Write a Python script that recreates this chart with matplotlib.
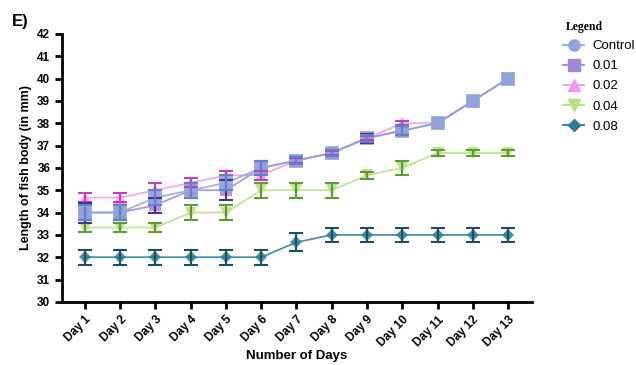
import numpy as np
import matplotlib.pyplot as plt
from matplotlib.lines import Line2D

plt.rcParams['font.family'] = ['Liberation Sans', 'DejaVu Sans']

days = ["Day %d" % (i + 1) for i in range(13)]
control = [34, 34, 34.67, 35, 35.33, 36, 36.33, 36.67, 37.33, 37.67, 38, 39, 40]
control_err = [0.33, 0.33, 0.33, 0.33, 0.33, 0.33, 0.15, 0.15, 0.15, 0.2, 0, 0, 0]
c001 = [34, 34, 34.33, 35, 35, 36, 36.33, 36.67, 37.33, 37.67, 38, 39, 40]
c001_err = [0.45, 0.33, 0.33, 0.33, 0.45, 0.33, 0.15, 0.15, 0.2, 0.2, 0, 0, 0]
c002 = [34.67, 34.67, 35, 35.33, 35.67, 35.67, 36.33, 36.67, 37.33, 38, 38, 39, 40]
c002_err = [0.2, 0.2, 0.33, 0.2, 0.2, 0.2, 0.1, 0.1, 0.1, 0.1, 0, 0, 0]
c004 = [33.33, 33.33, 33.33, 34, 34, 35, 35, 35, 35.67, 36, 36.67, 36.67, 36.67]
c004_err = [0.2, 0.2, 0.2, 0.33, 0.33, 0.33, 0.33, 0.33, 0.15, 0.33, 0.15, 0.15, 0.15]
c008 = [32, 32, 32, 32, 32, 32, 32.67, 33, 33, 33, 33, 33, 33]
c008_err = [0.33, 0.33, 0.33, 0.33, 0.33, 0.33, 0.4, 0.33, 0.33, 0.33, 0.33, 0.33, 0.33]

x = np.arange(1, 14)

fig = plt.figure(figsize=(6.36, 3.65), dpi=100)
ax = fig.add_axes([0.0975, 0.173, 0.739, 0.734])

series = [
    (c008, c008_err, '#2a7d9a', '#1d4f63', 'D', 6),
    (c004, c004_err, '#b5e07f', '#5d9c2e', 'v', 8),
    (c002, c002_err, '#ea9ae8', '#c040c0', '^', 8),
    (c001, c001_err, '#9f86d6', '#4b2f96', 's', 9),
    (control, control_err, '#8ea6dd', '#6780c4', 's', 10),
]
for i, (y, e, col, ecol, m, ms) in enumerate(series):
    y = np.array(y)
    e = np.array(e)
    ax.plot(x, y, color=col, marker=m, markersize=ms, lw=1.3,
            markeredgewidth=0, alpha=0.85, zorder=2 + i * 0.1)
    k = e > 0
    ax.errorbar(x[k], y[k], yerr=e[k], fmt='none', ecolor=ecol, elinewidth=1.5,
                capsize=5, capthick=1.5, zorder=3 + i * 0.1)

ax.set_xlim(0.35, 13.68)
ax.set_ylim(30, 42)
ax.set_yticks(range(30, 43))
ax.set_xticks(x)
ax.set_xticklabels(days, rotation=45, ha='right', rotation_mode='anchor')
for s in ['top', 'right']:
    ax.spines[s].set_visible(False)
for s in ['left', 'bottom']:
    ax.spines[s].set_linewidth(2)
ax.tick_params(width=2, length=5, labelsize=8.5)
for lab in ax.get_xticklabels() + ax.get_yticklabels():
    lab.set_fontweight('bold')
ax.set_ylabel("Length of fish body (in mm)", fontsize=9, fontweight='bold')
ax.set_xlabel("Number of Days", fontsize=9.5, fontweight='bold', labelpad=1)

fig.text(0.018, 0.93, "E)", fontsize=12, fontweight='bold')
fig.text(0.89, 0.918, "Legend", fontsize=8.5, fontweight='bold',
         family='Liberation Serif')

handles = [
    Line2D([], [], color='#8ea6dd', marker='o', markersize=8, lw=1.3, label='Control'),
    Line2D([], [], color='#9f86d6', marker='s', markersize=8, lw=1.3, label='0.01'),
    Line2D([], [], color='#ea9ae8', marker='^', markersize=8, lw=1.3, label='0.02'),
    Line2D([], [], color='#b5e07f', marker='v', markersize=8, lw=1.3, label='0.04'),
    Line2D([], [], color='#2a7d9a', marker='D', markersize=6, lw=1.3, label='0.08'),
]
leg = fig.legend(handles=handles, loc='upper left', bbox_to_anchor=(0.877, 0.905),
                 frameon=False, fontsize=9.5, handlelength=1.6, handletextpad=0.6,
                 labelspacing=0.6, borderaxespad=0)

fig.savefig('out.png', dpi=100)
